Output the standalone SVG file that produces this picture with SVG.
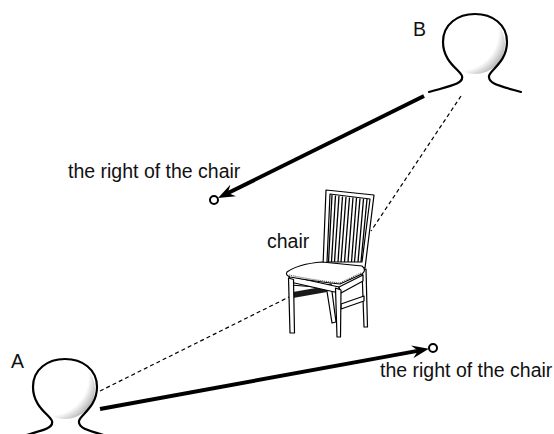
<svg xmlns="http://www.w3.org/2000/svg" width="554" height="434" viewBox="0 0 554 434">
  <style>
    .label { font-family: "Liberation Sans", Arial, sans-serif; font-size: 19.5px; fill: #111; }
    .outline { fill: none; stroke: #000; stroke-width: 2.2; stroke-linecap: round; stroke-linejoin: round; }
    .gaze { fill: none; stroke: #000; stroke-width: 1.2; stroke-dasharray: 4 3; }
    .pointer { fill: none; stroke: #000; stroke-width: 4; }
    .spot { fill: #fff; stroke: #000; stroke-width: 2; }
    .wood { fill: #fff; stroke: #000; stroke-width: 1.2; stroke-linejoin: round; }
    .slat { stroke: #000; stroke-width: 1.3; }
  </style>
  <defs>
    <radialGradient id="headShade" cx="0.25" cy="0.3" r="0.8">
      <stop offset="0.8" stop-color="#fff"/>
      <stop offset="1" stop-color="#bdbdbd"/>
    </radialGradient>
    <marker id="dart" viewBox="0 0 17 13" refX="7" refY="6.5" markerWidth="17" markerHeight="13" markerUnits="userSpaceOnUse" orient="auto">
      <path d="M17 6.5 L0 0 L6 6.5 L0 13 Z" fill="#000"/>
    </marker>
    <!-- head-and-shoulders silhouette, head top at (0,0) -->
    <g id="person">
      <circle cx="0" cy="30" r="30" fill="url(#headShade)"/>
      <path class="outline" d="M-46 78 C-25 72 -11 70 -13 62 C-15 56 -32 48 -32 28 C-32 10 -17 0 0 0 C17 0 32 10 32 28 C32 48 15 56 14 62 C13 70 25 72 46 78"/>
    </g>
  </defs>

  <!-- sight lines and pointing arrows -->
  <g id="connectors">
    <line class="gaze" x1="461" y1="96" x2="371" y2="231"/>
    <line class="gaze" x1="100" y1="391" x2="291" y2="296"/>
    <line class="pointer" x1="424" y1="96" x2="227" y2="193.5" marker-end="url(#dart)"/>
    <line class="pointer" x1="100" y1="409" x2="419" y2="350.6" marker-end="url(#dart)"/>
    <circle class="spot" cx="214" cy="200" r="4"/>
    <circle class="spot" cx="433" cy="348" r="4"/>
  </g>

  <g id="personB">
    <use href="#person" x="475" y="14"/>
    <text class="label" x="413" y="36">B</text>
  </g>

  <g id="personA">
    <use href="#person" x="65" y="359"/>
    <text class="label" x="11" y="368">A</text>
  </g>

  <g id="targetB">
    <text class="label" x="68" y="178">the right of the chair</text>
  </g>

  <g id="targetA">
    <text class="label" x="380" y="377">the right of the chair</text>
  </g>

  <g id="chair">
    <text class="label" x="267" y="248">chair</text>
    <!-- back frame and slats -->
    <polygon class="wood" stroke-width="1.5" points="326,190 374,195 365,268 323,266"/>
    <polygon class="wood" points="330,194 370,199 362,262 327,262"/>
    <g class="slat">
      <line x1="332" y1="195" x2="328.5" y2="262"/>
      <line x1="335.5" y1="195.5" x2="331.5" y2="262"/>
      <line x1="339" y1="196" x2="334.5" y2="262"/>
      <line x1="342.5" y1="196.5" x2="338" y2="262"/>
      <line x1="346" y1="197" x2="341" y2="262"/>
      <line x1="349.5" y1="197.5" x2="344.5" y2="262"/>
      <line x1="353" y1="197.5" x2="348" y2="262"/>
      <line x1="356.5" y1="198" x2="351.5" y2="262"/>
      <line x1="360" y1="198.5" x2="354.5" y2="262"/>
      <line x1="363.5" y1="199" x2="358" y2="262"/>
      <line x1="367" y1="199" x2="361" y2="262"/>
    </g>
    <!-- back legs and stretchers -->
    <polygon class="wood" points="362,270 366,269 367.5,327 364,327"/>
    <polygon class="wood" points="326,285 331,284 336,322 332,323"/>
    <polygon class="wood" points="290,281 327,285 327,288 291,285"/>
    <polygon points="293,292 327,286 327,292 293,298" fill="#1a1a1a"/>
    <polygon class="wood" points="341,304 364,296 364,301 341,309"/>
    <!-- seat aprons -->
    <polygon class="wood" points="289,276 339,287 339,293 290,282"/>
    <polygon class="wood" points="339,287 363,275 363,281 341,293"/>
    <!-- cushion -->
    <path class="wood" fill="#ececec" d="M287 272 Q298 264 322 262 L362 266 Q367 270 362 274 L340 284 Q312 281 290 277 Q285 275 287 272 Z"/>
    <path d="M289 275 Q312 280 340 283 L361 273" fill="none" stroke="#555" stroke-width="1.2" stroke-dasharray="1 1"/>
    <!-- front legs -->
    <polygon class="wood" points="288.5,278 293.5,279.5 294.5,333 290,333"/>
    <polygon class="wood" points="335.5,288 341,290 340.5,337 337,337"/>
  </g>
</svg>
